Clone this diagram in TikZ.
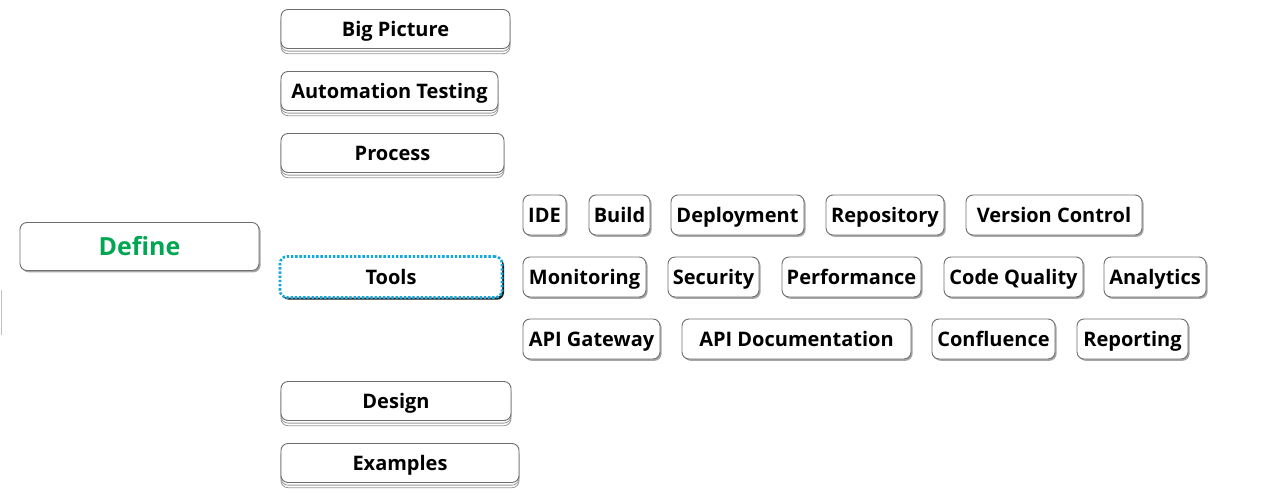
\documentclass[tikz,border=0pt]{standalone}
\usepackage{fontspec}
\setmainfont{Open Sans}
\usetikzlibrary{shadows}
\definecolor{bord}{HTML}{6E6E6E}
\definecolor{defgreen}{HTML}{00A651}
\definecolor{selblue}{HTML}{12A8DB}
\begin{document}
\begin{tikzpicture}[x=1pt,y=-1pt,
  base/.style={rounded corners=7pt, draw=bord, line width=0.9pt, fill=white, inner sep=0pt, font=\bfseries\fontsize{20}{24}\selectfont, text=black, text height=14pt, text depth=0pt},
  leaf/.style={base, drop shadow={shadow xshift=1.6pt, shadow yshift=-1.8pt, opacity=0.35, fill=black}},
  branch/.style={base, text height=14pt, double copy shadow={shadow xshift=0pt, shadow yshift=-2.6pt, draw=bord!70, fill=white, line width=0.8pt}},
  rootbox/.style={base, font=\bfseries\fontsize{25}{30}\selectfont, text=defgreen, text height=18pt, drop shadow={shadow xshift=1.6pt, shadow yshift=-1.8pt, opacity=0.35, fill=black}},
  selbox/.style={base, text height=14pt, draw=selblue, dash pattern=on 2.4pt off 1.8pt, line width=2.6pt, drop shadow={shadow xshift=2pt, shadow yshift=-2.2pt, opacity=0.9, fill=black}}]
\useasboundingbox (0,0) rectangle (1280,496);
% faint edge at left
\draw[black!25, line width=1pt] (1,290) -- (1,335);
% root
\node[rootbox, minimum width=239pt, minimum height=48pt] (define) at (139.5,246.5) {Define};
% branches
\node[branch, minimum width=229pt, minimum height=39pt] (big) at (395.5,29) {Big Picture};
\node[branch, minimum width=217pt, minimum height=39pt] (auto) at (389.5,91) {Automation Testing};
\node[branch, minimum width=223pt, minimum height=39pt] (proc) at (392.5,153) {Process};
\node[selbox, minimum width=222pt, minimum height=41pt] (tools) at (391,277) {Tools};
\node[branch, minimum width=230pt, minimum height=39pt] (design) at (396,401) {Design};
\node[branch, minimum width=238pt, minimum height=39pt] (ex) at (400,463) {Examples};
% row 1
\node[leaf, minimum width=43pt, minimum height=40pt] (ide) at (544.5,215) {IDE};
\node[leaf, minimum width=61pt, minimum height=40pt] (build) at (619.5,215) {Build};
\node[leaf, minimum width=133pt, minimum height=40pt] (deploy) at (737.5,215) {Deployment};
\node[leaf, minimum width=118pt, minimum height=40pt] (repo) at (885,215) {Repository};
\node[leaf, minimum width=176pt, minimum height=40pt] (vc) at (1054,215) {Version Control};
% row 2
\node[leaf, minimum width=123pt, minimum height=40pt] (mon) at (584.5,277) {Monitoring};
\node[leaf, minimum width=91pt, minimum height=40pt] (sec) at (713.5,277) {Security};
\node[leaf, minimum width=139pt, minimum height=40pt] (perf) at (851.5,277) {Performance};
\node[leaf, minimum width=139pt, minimum height=40pt] (cq) at (1013.5,277) {Code Quality};
\node[leaf, minimum width=102pt, minimum height=40pt] (ana) at (1155,277) {Analytics};
% row 3
\node[leaf, minimum width=137pt, minimum height=40pt] (gw) at (591.5,339) {API Gateway};
\node[leaf, minimum width=229pt, minimum height=40pt] (doc) at (796.5,339) {API Documentation};
\node[leaf, minimum width=123pt, minimum height=40pt] (conf) at (993.5,339) {Confluence};
\node[leaf, minimum width=111pt, minimum height=40pt] (rep) at (1132.5,339) {Reporting};
\end{tikzpicture}
\end{document}
